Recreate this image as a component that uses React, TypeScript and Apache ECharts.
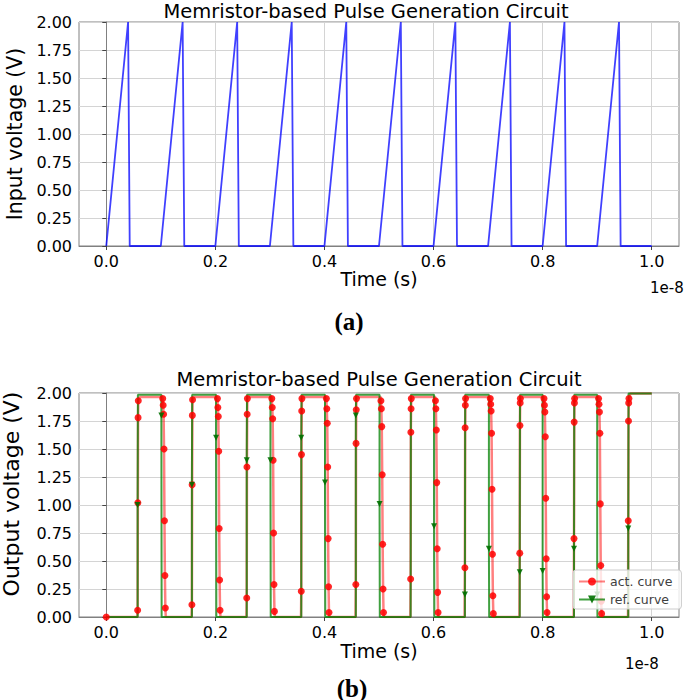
import React, { useEffect, useRef } from "react";
import * as echarts from "echarts";

// ---------- Data (time in units of 1e-8 s) ----------
const xTickValues = [0, 0.2, 0.4, 0.6, 0.8, 1.0];

// (a) input voltage: sawtooth pulses
const inputTime = [
  0, 0.04, 0.043, 0.1, 0.14, 0.143, 0.2, 0.24, 0.243, 0.3, 0.34, 0.343,
  0.4, 0.44, 0.443, 0.5, 0.54, 0.543, 0.6, 0.64, 0.643, 0.7, 0.74, 0.743,
  0.8, 0.84, 0.843, 0.9, 0.94, 0.943, 1.0,
];
const inputVoltage = [
  0, 2, 0, 0, 2, 0, 0, 2, 0, 0, 2, 0, 0, 2, 0, 0, 2, 0, 0, 2, 0, 0, 2, 0,
  0, 2, 0, 0, 2, 0, 0,
];

// (b) output voltage: edge times
const riseTimes = [0.0575, 0.157, 0.2575, 0.3575, 0.4575, 0.558, 0.6575, 0.758, 0.8575, 0.957];
const fallTimes = [0.101, 0.2013, 0.301, 0.401, 0.501, 0.601, 0.7015, 0.8, 0.9];

// act. curve samples on each rising / falling edge
const actRise = [
  [0.06, 1.02, 1.78, 1.93],
  [0.11, 1.18, 1.8, 1.94],
  [0.17, 1.34, 1.81, 1.95],
  [0.23, 1.45, 1.84, 1.95],
  [0.29, 1.55, 1.85, 1.95],
  [0.34, 1.65, 1.86, 1.95],
  [0.44, 1.69, 1.89, 1.95],
  [0.57, 1.71, 1.91, 1.95],
  [0.7, 1.74, 1.91, 1.95],
  [0.86, 1.75, 1.91, 1.95],
];
const actFall = [
  [1.95, 1.89, 1.81, 1.5, 0.86, 0.37, 0.08],
  [1.95, 1.87, 1.79, 1.48, 0.79, 0.33, 0.06],
  [1.95, 1.87, 1.77, 1.4, 0.75, 0.29, 0.05],
  [1.95, 1.86, 1.73, 1.34, 0.7, 0.27, 0.04],
  [1.93, 1.86, 1.7, 1.27, 0.65, 0.25, 0.04],
  [1.93, 1.86, 1.67, 1.2, 0.61, 0.22, 0.04],
  [1.95, 1.9, 1.84, 1.64, 1.14, 0.56, 0.19, 0.03],
  [1.95, 1.89, 1.83, 1.61, 1.06, 0.52, 0.18, 0.04],
  [1.95, 1.9, 1.83, 1.64, 1.01, 0.46, 0.14, 0.03],
];
// ref. curve samples on each edge (null = hidden on the plateau)
const refRise = [1.0, 1.18, 1.4, 1.6, 1.8, null, 0.2, 0.4, 0.61, 0.79];
const refFall = [1.8, 1.6, 1.4, 1.2, 1.01, 0.81, 0.61, 0.41, 0.2];
const actHigh = 1.965;
const refHigh = 1.985;
const finalHigh = 1.995;
const endTime = 1.0;

const FONT = "DejaVu Sans";

type Pt = { value: [number, number]; symbol?: string };

function buildAct(): Pt[] {
  const pts: Pt[] = [{ value: [0, 0] }];
  riseTimes.forEach((tr, k) => {
    const last = k >= fallTimes.length;
    const high = last ? finalHigh : actHigh;
    pts.push({ value: [tr - 0.0005, 0], symbol: "none" });
    actRise[k].forEach((v, i) => pts.push({ value: [tr + i * 0.0004, v] }));
    pts.push({ value: [tr + 0.004, high], symbol: "none" });
    if (!last) {
      const tf = fallTimes[k];
      pts.push({ value: [tf + 0.002, actHigh], symbol: "none" });
      const vals = actFall[k];
      vals.forEach((v, i) => pts.push({ value: [tf + 0.0025 + i * 0.0008, v] }));
      pts.push({ value: [tf + 0.0025 + vals.length * 0.0008, 0], symbol: "none" });
    } else {
      pts.push({ value: [endTime, finalHigh], symbol: "none" });
    }
  });
  return pts;
}

function buildRef(): Pt[] {
  const pts: Pt[] = [{ value: [0, 0], symbol: "none" }];
  riseTimes.forEach((tr, k) => {
    const last = k >= fallTimes.length;
    pts.push({ value: [tr, 0], symbol: "none" });
    const r = refRise[k];
    if (r !== null) pts.push({ value: [tr, r] });
    pts.push({ value: [tr + 0.0005, last ? finalHigh : refHigh], symbol: "none" });
    if (!last) {
      const tf = fallTimes[k];
      pts.push({ value: [tf, refHigh], symbol: "none" });
      pts.push({ value: [tf, refFall[k]] });
      pts.push({ value: [tf + 0.0005, 0], symbol: "none" });
    } else {
      pts.push({ value: [endTime, finalHigh], symbol: "none" });
    }
  });
  return pts;
}

function xAxisCfg(gridIndex: number, nameGap: number) {
  return {
    type: "value",
    gridIndex,
    min: -0.05,
    max: 1.05,
    splitNumber: 5,
    name: "Time (s)",
    nameLocation: "middle",
    nameGap,
    nameTextStyle: { fontSize: 19, color: "#000", fontFamily: FONT },
    axisLine: { show: true, onZero: false, lineStyle: { color: "#808080", width: 1 } },
    axisTick: { show: true, customValues: xTickValues, length: 4, lineStyle: { color: "#444" } },
    axisLabel: {
      customValues: xTickValues,
      formatter: (v: number) => v.toFixed(1),
      fontSize: 16,
      color: "#000",
      margin: 7,
      fontFamily: FONT,
    },
    splitLine: { show: true, lineStyle: { color: "#d4d4d4", width: 1 } },
  };
}

function yAxisCfg(gridIndex: number, name: string, nameGap: number, fontSize: number, padding: number[]) {
  return {
    type: "value",
    gridIndex,
    min: 0,
    max: 2,
    interval: 0.25,
    name,
    nameLocation: "middle",
    nameRotate: 90,
    nameGap,
    nameTextStyle: { fontSize, color: "#000", fontFamily: FONT, padding },
    axisLine: { show: true, lineStyle: { color: "#808080", width: 1 } },
    axisTick: { show: true, length: 4, lineStyle: { color: "#444" } },
    axisLabel: {
      formatter: (v: number) => v.toFixed(2),
      fontSize: 16,
      color: "#000",
      margin: 7,
      fontFamily: FONT,
    },
    splitLine: { show: true, lineStyle: { color: "#d4d4d4", width: 1 } },
  };
}

function txt(text: string, x: number, y: number, size: number, align = "center", extra: any = {}) {
  return {
    type: "text",
    x,
    y,
    silent: true,
    style: {
      text,
      fill: "#000",
      fontSize: size,
      fontFamily: FONT,
      align,
      textAlign: align,
      verticalAlign: "middle",
      textVerticalAlign: "middle",
      ...extra,
    },
  };
}

export default function App() {
  const ref = useRef<HTMLDivElement>(null);

  useEffect(() => {
    if (!ref.current) return;
    const chart = echarts.init(ref.current, null, { renderer: "svg" });
    const inputData = inputTime.map((t, i) => [t, inputVoltage[i]]);

    const gridBase = {
      left: 79,
      width: 600,
      height: 224,
      show: true,
      borderColor: "#808080",
      borderWidth: 1,
      backgroundColor: "transparent",
      containLabel: false,
      outerBoundsMode: "none",
    };

    chart.setOption({
      animation: false,
      backgroundColor: "#ffffff",
      grid: [
        { ...gridBase, top: 22 },
        { ...gridBase, top: 393 },
      ],
      xAxis: [xAxisCfg(0, 23), xAxisCfg(1, 24)],
      yAxis: [
        yAxisCfg(0, "Input voltage (V)", 50, 20.5, [0, 0, 0, 0]),
        yAxisCfg(1, "Output voltage (V)", 57, 22, [0, 0, 0, 22]),
      ],
      legend: {
        data: ["act. curve", "ref. curve"],
        orient: "vertical",
        left: 573,
        top: 570,
        itemWidth: 26,
        itemHeight: 10,
        itemGap: 5,
        padding: [5, 9, 3, 5],
        backgroundColor: "rgba(255,255,255,0.8)",
        borderColor: "#cccccc",
        borderWidth: 1,
        borderRadius: 3,
        selectedMode: false,
        textStyle: { fontSize: 12.5, color: "#404040", fontFamily: FONT },
      },
      graphic: [
        txt("Memristor-based Pulse Generation Circuit", 366, 11, 19.5),
        txt("Memristor-based Pulse Generation Circuit", 379, 379, 19.5),
        txt("1e-8", 650, 288, 15, "left"),
        txt("1e-8", 625, 664, 15, "left"),
        txt("(a)", 349, 321, 25, "center", { fontFamily: "Liberation Serif", fontWeight: "bold" }),
        txt("(b)", 352, 688, 25, "center", { fontFamily: "Liberation Serif", fontWeight: "bold" }),
      ],
      series: [
        {
          name: "input",
          type: "line",
          xAxisIndex: 0,
          yAxisIndex: 0,
          data: inputData,
          showSymbol: false,
          symbol: "none",
          lineStyle: { color: "#0000ff", width: 1.8, opacity: 0.75 },
          itemStyle: { color: "#0000ff" },
          emphasis: { disabled: true },
        },
        {
          name: "act. curve",
          type: "line",
          xAxisIndex: 1,
          yAxisIndex: 1,
          data: buildAct(),
          symbol: "circle",
          symbolSize: 7,
          showSymbol: true,
          showAllSymbol: true,
          lineStyle: { color: "#ff0000", width: 2.5, opacity: 0.5 },
          itemStyle: { color: "#ff0000", opacity: 0.85 },
          emphasis: { disabled: true },
        },
        {
          name: "ref. curve",
          type: "line",
          xAxisIndex: 1,
          yAxisIndex: 1,
          data: buildRef(),
          symbol: "triangle",
          symbolRotate: 180,
          symbolSize: 6,
          showSymbol: true,
          showAllSymbol: true,
          lineStyle: { color: "#008000", width: 2, opacity: 0.75 },
          itemStyle: { color: "#007000", opacity: 0.9 },
          emphasis: { disabled: true },
        },
      ],
    });
    return () => chart.dispose();
  }, []);

  return (
    <div
      ref={ref}
      style={{ position: "absolute", left: 0, top: 0, width: 685, height: 700, background: "#fff" }}
    />
  );
}
